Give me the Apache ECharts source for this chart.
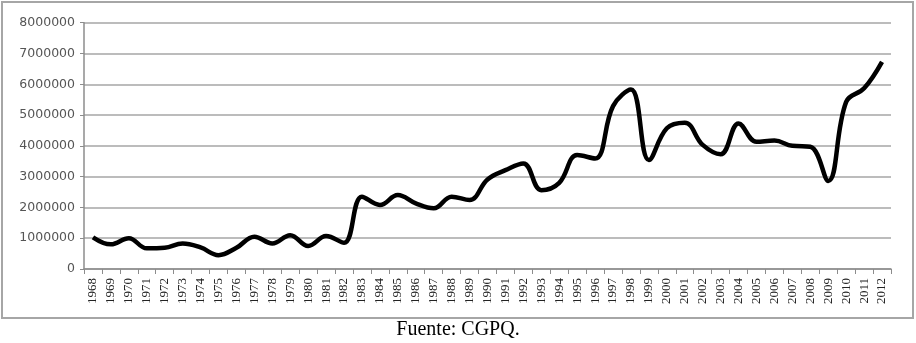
<!DOCTYPE html>
<html>
<head>
<meta charset="utf-8">
<script src="https://cdn.jsdelivr.net/npm/echarts@6/dist/echarts.min.js"></script>
<style>
html,body{margin:0;padding:0;background:#fff;}
#c{width:916px;height:343px;}
</style>
</head>
<body>
<div id="c"></div>
<script>
var years = ['1968','1969','1970','1971','1972','1973','1974','1975','1976','1977','1978','1979','1980','1981','1982','1983','1984','1985','1986','1987','1988','1989','1990','1991','1992','1993','1994','1995','1996','1997','1998','1999','2000','2001','2002','2003','2004','2005','2006','2007','2008','2009','2010','2011','2012'];
var values = [1030000,800000,1000000,670000,690000,830000,700000,450000,690000,1050000,830000,1100000,750000,1070000,850000,2350000,2080000,2400000,2130000,1970000,2350000,2240000,2910000,3210000,3430000,2560000,2800000,3700000,3590000,5290000,5830000,3540000,4570000,4750000,4030000,3730000,4730000,4130000,4170000,4000000,3970000,2860000,5430000,5870000,6730000];
var yMin = 0, yMax = 8000000, yStep = 1000000;
var caption = 'Fuente: CGPQ.';

var chart = echarts.init(document.getElementById('c'), null, {renderer:'canvas'});
chart.setOption({
  animation: false,
  backgroundColor: '#ffffff',
  grid: {left: 84, right: 25, top: 22.7, bottom: 74, containLabel: false},
  graphic: [
    {type:'rect', shape:{x:2, y:2, width:911, height:316}, style:{fill:'none', stroke:'#a6a6a6', lineWidth:2}, silent:true},
    {type:'text', left:'center', top:320, style:{text:caption, font:'20px "Liberation Serif", "Times New Roman", serif', fill:'#000'}}
  ],
  xAxis: {
    type:'category',
    data: years,
    boundaryGap: true,
    axisLine: {show:true, lineStyle:{color:'#8c8c8c', width:1.5}},
    axisTick: {show:true, alignWithLabel:false, length:5, lineStyle:{color:'#8c8c8c', width:1}},
    axisLabel: {rotate:90, interval:0, margin:9, fontFamily:'"Liberation Serif", "Times New Roman", serif', fontSize:13, color:'#222'},
    splitLine: {show:false}
  },
  yAxis: {
    type:'value',
    min: yMin, max: yMax, interval: yStep,
    axisLine: {show:true, lineStyle:{color:'#8c8c8c', width:1.5}},
    axisTick: {show:true, length:4, lineStyle:{color:'#8c8c8c'}},
    axisLabel: {margin:9, fontFamily:'"DejaVu Sans", Verdana, sans-serif', fontSize:12.5, color:'#555', formatter:function(v){return String(v);}},
    splitLine: {show:true, lineStyle:{color:'#a6a6a6', width:1.5}}
  },
  series: [{
    type:'line',
    data: values,
    smooth: 0.4,
    showSymbol: false,
    symbol: 'none',
    lineStyle: {color:'#000', width:4.5},
    itemStyle: {color:'#000'}
  }]
});
</script>
</body>
</html>
